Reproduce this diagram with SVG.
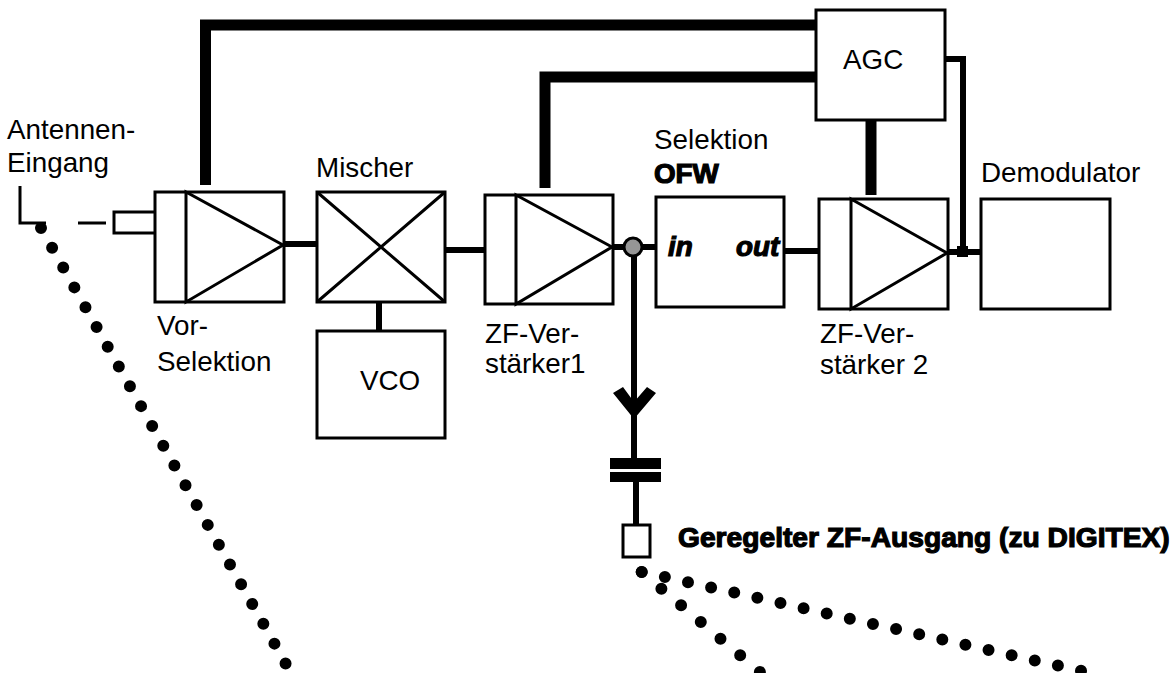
<svg xmlns="http://www.w3.org/2000/svg" width="1175" height="673" viewBox="0 0 1175 673">
<style>
text{font-family:"Liberation Sans",Arial,sans-serif;font-size:27.8px;fill:#000}
.b{font-weight:bold;stroke:#000;stroke-width:1.2}
.g{font-size:28.2px}
.i{font-style:italic;font-weight:bold;stroke:#000;stroke-width:1.2}
.box{fill:#fff;stroke:#000;stroke-width:3}
.sym{fill:none;stroke:#000;stroke-width:3}
.w{fill:none;stroke:#000;stroke-width:6}
.t{fill:none;stroke:#000;stroke-width:11}
.d{fill:none;stroke:#000;stroke-width:12;stroke-linecap:round}
</style>
<rect width="1175" height="673" fill="#fff"/>
<g id="connectors">
<path class="t" d="M205.500 185V25H816"/>
<path class="t" d="M545 188V77H816"/>
<path class="t" d="M871 120V195"/>
<path class="w" d="M945 59H963V253"/>
<path class="w" d="M284 244H317"/>
<path class="w" d="M445 250H485"/>
<path class="w" d="M379 302V331"/>
<path class="w" d="M613 247H656"/>
<path class="w" d="M784 251H819"/>
<path class="w" d="M948 252H981"/>
<rect x="957" y="246" width="11" height="11"/>
<path class="w" d="M634 256V458"/>
<path class="w" d="M636 482V525"/>
<polygon points="613,393 623,387 634,402 647,387 656,393 634,419"/>
<rect x="610" y="458" width="51" height="11"/>
<rect x="610" y="472" width="51" height="10"/>
<path class="sym" d="M20 186V223H46M78 223H106"/>
<path class="d" stroke-dasharray="0 22.7" d="M41 228L296 682"/>
<path class="d" stroke-dasharray="0 23.7" d="M641.700 572L665 577L1104 676"/>
<path class="d" stroke-dasharray="0 25.8" d="M641.700 572L780 689"/>
</g>
<g id="antenna-input"><rect class="box" x="114" y="212" width="42" height="21"/><text x="7" y="139">Antennen-</text><text x="7" y="172">Eingang</text></g>
<g id="vorselektion"><rect class="box" x="155" y="192" width="129" height="110"/><path class="sym" d="M186 192V302L283 245Z"/><text x="157" y="335">Vor-</text><text x="157" y="371">Selektion</text></g>
<g id="mischer"><rect class="box" x="317" y="192" width="128" height="110"/><path class="sym" d="M317 192L445 302M445 192L317 302"/><text x="316" y="177">Mischer</text></g>
<g id="vco"><rect class="box" x="317" y="331" width="128" height="107"/><text x="360" y="390">VCO</text></g>
<g id="zf1"><rect class="box" x="485" y="195" width="128" height="109"/><path class="sym" d="M516 195V304L612 247Z"/><text x="485" y="343">ZF-Ver-</text><text x="485" y="373">stärker1</text></g>
<g id="tap"><circle cx="633" cy="247" r="9" fill="#969696" stroke="#000" stroke-width="3"/></g>
<g id="ofw"><rect class="box" x="656" y="197" width="128" height="110"/><text x="654" y="149">Selektion</text><text class="b" x="654" y="183">OFW</text><text class="i" x="668" y="256">in</text><text class="i" x="736" y="256">out</text></g>
<g id="zf2"><rect class="box" x="819" y="199" width="129" height="110"/><path class="sym" d="M851 199V309L947 253Z"/><text x="820" y="343">ZF-Ver-</text><text x="820" y="374">stärker 2</text></g>
<g id="agc"><rect class="box" x="816" y="10" width="129" height="110"/><text x="843" y="69">AGC</text></g>
<g id="demodulator"><rect class="box" x="981" y="199" width="129" height="110"/><text x="981" y="182">Demodulator</text></g>
<g id="zf-output"><rect class="box" x="623" y="525" width="27" height="32"/><text class="b g" x="678" y="547">Geregelter ZF-Ausgang (zu DIGITEX)</text></g>
</svg>
